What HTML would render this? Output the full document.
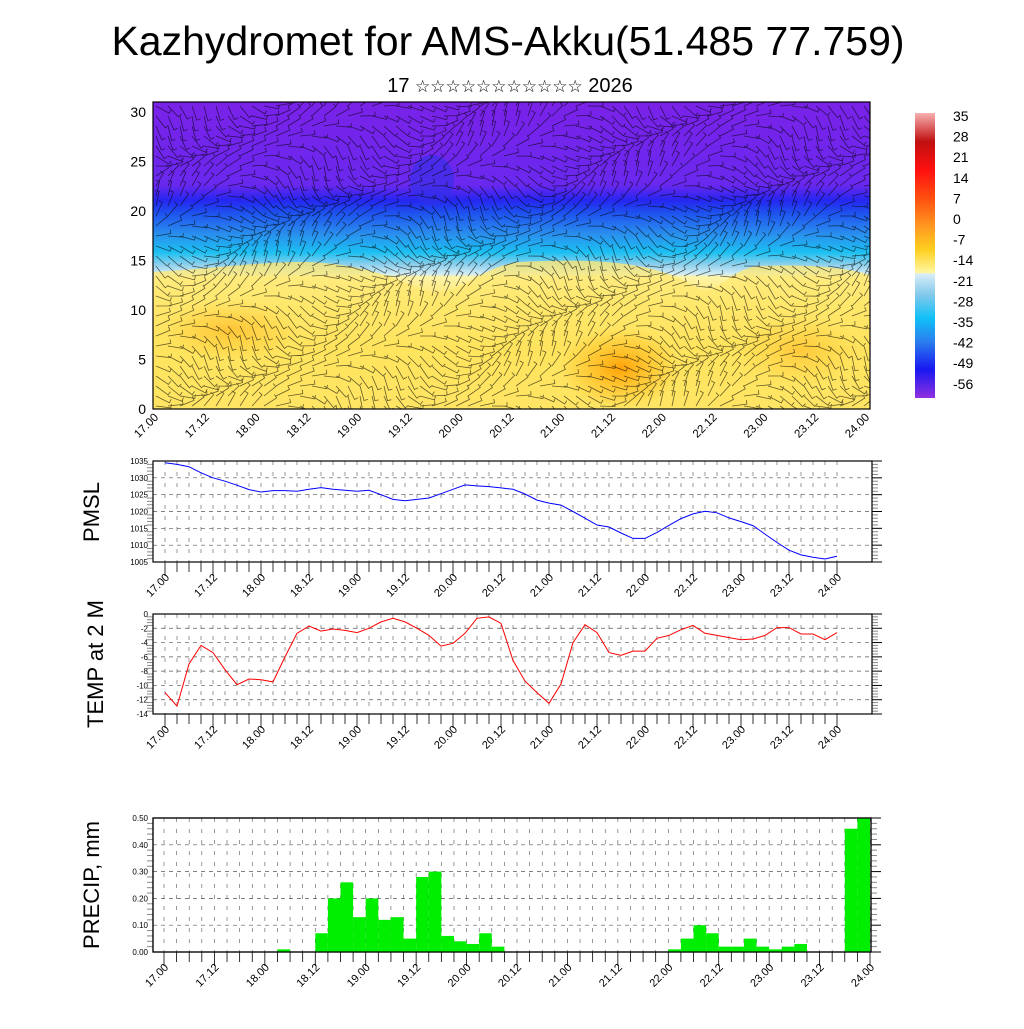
<!DOCTYPE html>
<html><head><meta charset="utf-8"><style>
html,body{margin:0;padding:0;background:#fff;}
body{width:1024px;height:1024px;overflow:hidden;font-family:"Liberation Sans","DejaVu Sans",sans-serif;}
</style></head><body>
<svg id="chart" width="1024" height="1024" xmlns="http://www.w3.org/2000/svg" font-family="Liberation Sans, DejaVu Sans, sans-serif">
<defs>
<linearGradient id="vgrad" x1="0" y1="0" x2="0" y2="1">
<stop offset="0" stop-color="#7a22e8"/>
<stop offset="0.27" stop-color="#6a28ee"/>
<stop offset="0.32" stop-color="#2626f0"/>
<stop offset="0.36" stop-color="#1e50ee"/>
<stop offset="0.43" stop-color="#2a8fee"/>
<stop offset="0.49" stop-color="#1cc0f2"/>
<stop offset="0.53" stop-color="#8fd0ec"/>
<stop offset="0.56" stop-color="#d0ecf6"/>
<stop offset="0.57" stop-color="#fff4a8"/>
<stop offset="0.66" stop-color="#ffe460"/>
<stop offset="0.8" stop-color="#ffd428"/>
<stop offset="1" stop-color="#ffdc40"/>
</linearGradient>
<radialGradient id="orange" cx="0.5" cy="0.5" r="0.5">
<stop offset="0" stop-color="#ff9c00" stop-opacity="0.9"/>
<stop offset="1" stop-color="#ffb000" stop-opacity="0"/>
</radialGradient>
<linearGradient id="cbar" x1="0" y1="0" x2="0" y2="1">
<stop offset="0" stop-color="#f8b0b0"/>
<stop offset="0.1" stop-color="#c01010"/>
<stop offset="0.2" stop-color="#ff1010"/>
<stop offset="0.3" stop-color="#ff5010"/>
<stop offset="0.4" stop-color="#ff9a20"/>
<stop offset="0.48" stop-color="#ffd020"/>
<stop offset="0.56" stop-color="#fff6a0"/>
<stop offset="0.565" stop-color="#d8eef8"/>
<stop offset="0.64" stop-color="#80c8ea"/>
<stop offset="0.72" stop-color="#10c0f8"/>
<stop offset="0.8" stop-color="#2a80ee"/>
<stop offset="0.9" stop-color="#1818f0"/>
<stop offset="1" stop-color="#9030e0"/>
</linearGradient>
<clipPath id="topclip"><rect x="153" y="102" width="717" height="307"/></clipPath>
</defs>

<text x="508" y="55" text-anchor="middle" font-size="41">Kazhydromet for AMS-Akku(51.485 77.759)</text>
<text x="510" y="92" text-anchor="middle" font-size="20">17 <tspan font-size="17">☆☆☆☆☆☆☆☆☆☆☆</tspan> 2026</text>

<g id="top-panel" clip-path="url(#topclip)">
<rect x="153" y="102" width="717" height="307" fill="url(#vgrad)"/>
<path d="M153,272 C220,268 260,262 300,262 C360,262 400,280 430,292 C460,296 480,266 520,262 C600,258 660,262 700,290 C720,294 730,268 760,266 C810,264 850,268 870,275 L870,409 L153,409 Z" fill="#ffe870" opacity="0.75"/>
<ellipse cx="620" cy="368" rx="60" ry="40" fill="url(#orange)"/>
<ellipse cx="230" cy="330" rx="70" ry="30" fill="url(#orange)" opacity="0.5"/>
<ellipse cx="800" cy="350" rx="60" ry="35" fill="url(#orange)" opacity="0.4"/>
<ellipse cx="432" cy="180" rx="22" ry="25" fill="#3030e8" opacity="0.6"/>
<g id="wind"></g>
</g>
<rect x="153" y="102" width="717" height="307" fill="none" stroke="#000" stroke-width="1.2"/>
<g id="top-axes"></g>

<g>
<rect x="915" y="113" width="20" height="285" fill="url(#cbar)"/>
<g id="cbar-labels"></g>
</g>

<g id="pmsl-panel"></g>
<g id="temp-panel"></g>
<g id="precip-panel"></g>

<text transform="translate(99,512) rotate(-90)" text-anchor="middle" font-size="22">PMSL</text>
<text transform="translate(103,664) rotate(-90)" text-anchor="middle" font-size="22">TEMP at 2 M</text>
<text transform="translate(99,885) rotate(-90)" text-anchor="middle" font-size="22">PRECIP, mm</text>
</svg>
<script>
const timeLabels = ["17.00","17.12","18.00","18.12","19.00","19.12","20.00","20.12","21.00","21.12","22.00","22.12","23.00","23.12","24.00"];
const pmslValues = [1034.5,1034,1033.3,1031.5,1030,1029,1027.8,1026.5,1025.8,1026.2,1026.2,1026,1026.6,1027.1,1026.6,1026.3,1026,1026.3,1025,1023.6,1023.2,1023.6,1024,1025.3,1026.6,1027.9,1027.6,1027.4,1027,1026.6,1025.2,1023.4,1022.5,1021.9,1020,1018,1016,1015.4,1013.6,1012,1012,1013.8,1015.9,1017.9,1019.3,1020.1,1019.6,1018.1,1017,1015.8,1013.3,1010.8,1008.5,1007.1,1006.4,1005.9,1006.7];
const tempValues = [-11,-12.9,-7,-4.4,-5.4,-7.8,-9.9,-9.1,-9.2,-9.5,-6,-2.7,-1.7,-2.4,-2.1,-2.3,-2.6,-2,-1.1,-0.6,-1.1,-2,-3,-4.5,-4.1,-2.7,-0.6,-0.4,-1.3,-6.5,-9.4,-11,-12.5,-9.8,-4,-1.5,-2.6,-5.4,-5.8,-5.2,-5.2,-3.4,-3,-2.2,-1.6,-2.7,-3,-3.3,-3.6,-3.5,-3,-1.9,-1.9,-2.8,-2.8,-3.6,-2.6];
const precipValues = [0,0,0,0,0,0,0,0,0,0.01,0,0,0.07,0.20,0.26,0.13,0.20,0.12,0.13,0.05,0.28,0.30,0.06,0.04,0.03,0.07,0.02,0,0,0,0,0,0,0,0,0,0,0,0,0,0.01,0.05,0.10,0.07,0.02,0.02,0.05,0.02,0.01,0.02,0.03,0,0,0,0.46,0.50];
const pmslTicks = [1005,1010,1015,1020,1025,1030,1035];
const tempTicks = [-14,-12,-10,-8,-6,-4,-2,0];
const precipTicks = ["0.00","0.10","0.20","0.30","0.40","0.50"];
const heightTicks = [0,5,10,15,20,25,30];
const cbarLabels = ["35","28","21","14","7","0","-7","-14","-21","-28","-35","-42","-49","-56"];

const NS="http://www.w3.org/2000/svg";
function mk(parent,tag,attrs,text){const e=document.createElementNS(NS,tag);for(const k in attrs)e.setAttribute(k,attrs[k]);if(text!==undefined)e.textContent=text;parent.appendChild(e);return e;}

const topG=document.getElementById('top-axes');
const tx=i=>155+i*(866-155)/14;
const hy=v=>409-v*9.9;
heightTicks.forEach(v=>{
  const t=mk(topG,'text',{x:146,y:hy(v)+5,'text-anchor':'end','font-size':14},String(v));
  
  
});
timeLabels.forEach((l,i)=>{
  const t=mk(topG,'text',{transform:`translate(${tx(i)+4},${418}) rotate(-45)`,'text-anchor':'end','font-size':11.5},l);
  
  
});
const wind=document.getElementById('wind');
let d='';
for(let gx=0;gx<60;gx++){for(let gy=0;gy<31;gy++){
  const x=156+gx*12,y=106+gy*10;
  const a=Math.sin(gx*0.35+gy*0.5)*0.9+Math.cos(gx*0.13-gy*0.3)*0.5;
  const L=15;
  const x2=x+L*Math.cos(a),y2=y+L*Math.sin(a);
  d+=`M${x.toFixed(1)},${y.toFixed(1)}L${x2.toFixed(1)},${y2.toFixed(1)}l${(4*Math.sin(a)).toFixed(1)},${(-4*Math.cos(a)).toFixed(1)}`;
}}
const wp=mk(wind,'path',{d:d,stroke:'#000','stroke-width':0.8,fill:'none',opacity:0.6});



const cb=document.getElementById('cbar-labels');
cbarLabels.forEach((l,i)=>{
  const t=mk(cb,'text',{x:953,y:121+i*20.6,'font-size':14},l);
  
  
});

function panel(g,opts){
  const {x0,x1,y0,y1,ymin,ymax,ticks,tickText,xs,xe,fs}=opts;
  const sy=v=>y1-(v-ymin)/(ymax-ymin)*(y1-y0);
  const sx=i=>xs+i*(xe-xs)/56;
  for(let i=0;i<=56;i++){const x=sx(i);if(x>x0&&x<x1){mk(g,'line',{x1:x,x2:x,y1:y0,y2:y1,stroke:'#555','stroke-width':0.6,'stroke-dasharray':'4,7'});}}
  ticks.forEach((v,k)=>{
    const y=sy(+v);
    mk(g,'line',{x1:x0,x2:x1,y1:y,y2:y,stroke:'#555','stroke-width':0.7,'stroke-dasharray':'4,4'});
    mk(g,'line',{x1:x1,x2:x1+10,y1:y,y2:y,stroke:'#000','stroke-width':1});
    const t=mk(g,'text',{x:x0-5,y:y+3,'text-anchor':'end','font-size':fs},tickText?tickText[k]:String(v));
    
    
  });
  for(let k=0;k<ticks.length-1;k++){for(let m=1;m<5;m++){const y=sy(+ticks[k]+(ticks[k+1]-ticks[k])*m/5);
    mk(g,'line',{x1:x0,x2:x0-6,y1:y,y2:y,stroke:'#888','stroke-width':1});
    mk(g,'line',{x1:x1,x2:x1+6,y1:y,y2:y,stroke:'#888','stroke-width':1});}}
  const fr=mk(g,'rect',{x:x0,y:y0,width:x1-x0,height:y1-y0,fill:'none',stroke:'#000','stroke-width':1.2});
  
  
  for(let i=0;i<=56;i++){const x=sx(i);mk(g,'line',{x1:x,x2:x,y1:y1,y2:y1+(i%4==0?14:10),stroke:'#000','stroke-width':0.8});}
  timeLabels.forEach((l,i)=>{
    const t=mk(g,'text',{transform:`translate(${sx(i*4)+5},${y1+16}) rotate(-45)`,'text-anchor':'end','font-size':11},l);
    
    
  });
  return {sx,sy};
}
const pg=document.getElementById('pmsl-panel');
const P=panel(pg,{x0:153,x1:872,y0:461,y1:562,ymin:1005,ymax:1035,ticks:pmslTicks,xs:165,xe:837,fs:8});
const pl=mk(pg,'polyline',{points:pmslValues.map((v,i)=>P.sx(i).toFixed(1)+','+P.sy(v).toFixed(1)).join(' '),fill:'none',stroke:'#0000ff','stroke-width':1});


const tg=document.getElementById('temp-panel');
const T=panel(tg,{x0:153,x1:872,y0:614,y1:714,ymin:-14,ymax:0,ticks:tempTicks,xs:165,xe:837,fs:8});
const tl=mk(tg,'polyline',{points:tempValues.map((v,i)=>T.sx(i).toFixed(1)+','+T.sy(v).toFixed(1)).join(' '),fill:'none',stroke:'#ff0000','stroke-width':1});


const rg=document.getElementById('precip-panel');
const R=panel(rg,{x0:153,x1:871,y0:818,y1:952,ymin:0,ymax:0.5,ticks:precipTicks.map(Number),tickText:precipTicks,xs:164,xe:870,fs:8});
precipValues.forEach((v,i)=>{
  if(v<=0)return;
  const xa=R.sx(i),xb=R.sx(i+1),y=R.sy(v);
  const b=mk(rg,'rect',{x:xa,y:y,width:xb-xa,height:R.sy(0)-y,fill:'#00ee00'});
  
  
});
mk(rg,'rect',{x:153,y:818,width:718,height:134,fill:'none',stroke:'#000','stroke-width':1.2});
</script>
</body></html>
